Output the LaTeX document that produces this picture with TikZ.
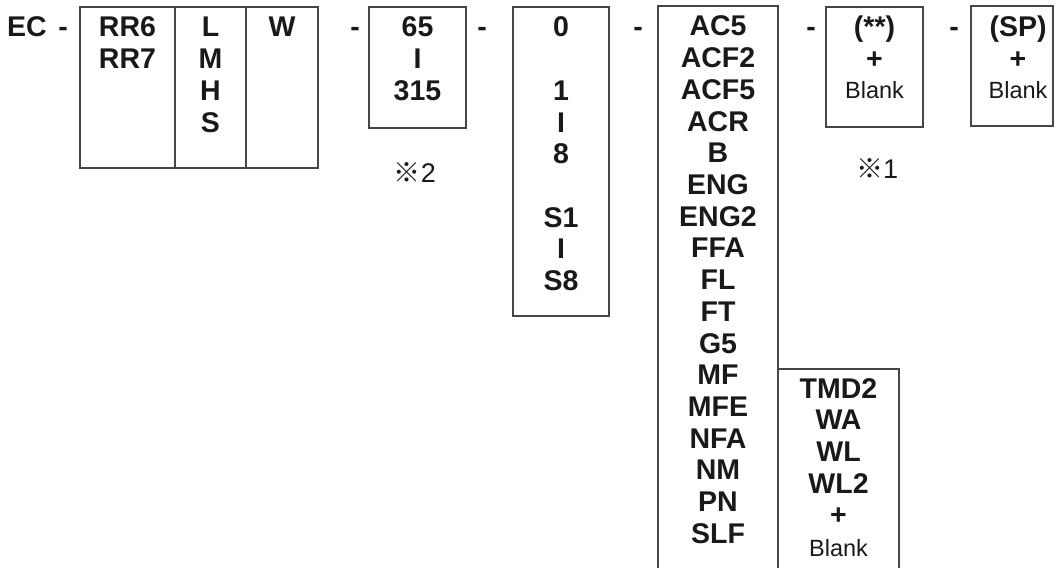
\documentclass[tikz,border=0pt]{standalone}
\usepackage{fontspec}
\setmainfont{Liberation Sans}
\newfontfamily\cjk{Noto Sans CJK JP}
\definecolor{ink}{RGB}{25,25,25}
\definecolor{linegray}{RGB}{70,70,70}
\tikzset{
  frame/.style={draw=linegray, line width=1.4pt, inner sep=0pt, outer sep=0pt, anchor=north west},
  lbl/.style={font=\bfseries\fontsize{28.5}{31.7}\selectfont, text=ink, inner sep=0pt, anchor=base},
  blanklbl/.style={font=\fontsize{23.5}{28}\selectfont, text=ink, inner sep=0pt, anchor=base},
  note/.style={font=\fontsize{27}{30}\selectfont, text=ink, inner sep=0pt, anchor=base},
}
\newcommand\stackcol[4]{%
  \foreach \t [count=\i from 0] in {#4} \node[lbl] (#1-\i) at (#2,{-(#3+\i*31.7)}) {\t};}
\begin{document}
\begin{tikzpicture}[x=1pt,y=1pt]
\useasboundingbox (0,0) rectangle (1056,-567);
% frames
\node[frame, minimum width=95pt, minimum height=161pt] (cellA) at (80,-7) {};
\node[frame, minimum width=71pt, minimum height=161pt] (cellB) at (175,-7) {};
\node[frame, minimum width=72pt, minimum height=161pt] (cellC) at (246,-7) {};
\node[frame, minimum width=97pt, minimum height=121pt] (box65) at (369,-7) {};
\node[frame, minimum width=96pt, minimum height=309pt] (box0) at (513,-7) {};
\node[frame, minimum width=120pt, minimum height=566pt] (boxAC) at (658,-6) {};
\node[frame, minimum width=121pt, minimum height=203pt] (boxTMD) at (778,-369) {};
\node[frame, minimum width=97pt, minimum height=120pt] (boxStar) at (826,-7) {};
\node[frame, minimum width=82pt, minimum height=120pt] (boxSP) at (971,-6) {};
% prefix and dashes
\node[lbl, anchor=base west] (ec) at (7,-37) {EC};
\foreach \x [count=\k] in {63,355,482,638,811,954}
  \node[lbl] (dash\k) at (\x,-37) {-};
% columns
\stackcol{rr}{127.5}{37}{RR6,RR7}
\stackcol{lm}{210.5}{37}{L,M,H,S}
\stackcol{w}{282}{37}{W}
\stackcol{sz}{417.5}{37}{65,I,315}
\foreach \t/\i in {0/0,1/2,I/3,8/4,S1/6,I/7,S8/8}
  \node[lbl] (num-\i) at (561,{-(37+\i*31.7)}) {\t};
\stackcol{opt}{718}{36}{AC5,ACF2,ACF5,ACR,B,ENG,ENG2,FFA,FL,FT,G5,MF,MFE,NFA,NM,PN,SLF}
\stackcol{tmd}{838.5}{398}{TMD2,WA,WL,WL2,+}
\node[blanklbl] (tmdblank) at (838.5,-556) {Blank};
\stackcol{st}{874.5}{37}{(**),+}
\node[blanklbl] (stblank) at (874.5,-99) {Blank};
\stackcol{sp}{1018}{37}{(SP),+}
\node[blanklbl] (spblank) at (1018,-99) {Blank};
% notes
\node[note] (note2) at (415,-182) {{\cjk ※}2};
\node[note] (note1) at (877,-178) {{\cjk ※}1};
\end{tikzpicture}
\end{document}
